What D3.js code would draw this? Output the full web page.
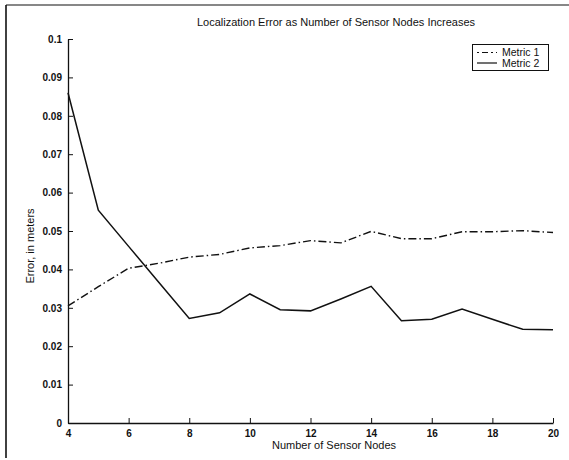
<!DOCTYPE html>
<html><head><meta charset="utf-8">
<script src="https://cdn.jsdelivr.net/npm/d3@7"></script>
<style>
body{margin:0;background:#fff;}
text{font-family:"Liberation Sans",Arial,sans-serif;fill:#111;}
</style></head>
<body><svg id="c" width="569" height="460"></svg>
<script>
const nodes = [4,5,6,7,8,9,10,11,12,13,14,15,16,17,18,19,20];
const metric1 = [0.0305,0.0355,0.0403,0.0416,0.0432,0.0439,0.0456,0.0462,0.0475,0.0469,0.0499,0.0480,0.0480,0.0498,0.0498,0.0501,0.0496];
const metric2 = [0.0860,0.0554,0.0460,0.0366,0.0272,0.0287,0.0336,0.0295,0.0292,0.0323,0.0356,0.0266,0.0270,0.0297,0.0270,0.0244,0.0243];
const xTicks = [4,6,8,10,12,14,16,18,20];
const yTicks = [0,0.01,0.02,0.03,0.04,0.05,0.06,0.07,0.08,0.09,0.1];
const seriesNames = ["Metric 1","Metric 2"];
const title = "Localization Error as Number of Sensor Nodes Increases";
const xLabel = "Number of Sensor Nodes";
const yLabel = "Error, in meters";

const svg = d3.select("#c");
const L=68, R=553, T=39, B=423;
const x = d3.scaleLinear().domain([4,20]).range([L,R]);
const y = d3.scaleLinear().domain([0,0.1]).range([B,T]);

// frame (scan border)
svg.append("line").attr("x1",6).attr("x2",6).attr("y1",5).attr("y2",458).attr("stroke","#111").attr("stroke-width",1.6);
svg.append("line").attr("x1",6).attr("x2",569).attr("y1",5).attr("y2",5).attr("stroke","#111").attr("stroke-width",1.2);

const fs = "10px";
const yAxis = svg.append("g").attr("transform",`translate(${L},0)`)
  .call(d3.axisLeft(y).tickValues(yTicks).tickSizeInner(-5).tickSizeOuter(0).tickPadding(6).tickFormat(d=>d===0?"0":d3.format("")(+d.toFixed(2))));
const xAxis = svg.append("g").attr("transform",`translate(0,${B})`)
  .call(d3.axisBottom(x).tickValues(xTicks).tickSizeInner(-5).tickSizeOuter(0).tickPadding(7).tickFormat(d3.format("d")));
[xAxis,yAxis].forEach(g=>{
  g.select(".domain").attr("stroke","#111").attr("stroke-width",1.3);
  g.selectAll(".tick line").attr("stroke","#111").attr("stroke-width",1);
  g.selectAll("text").style("font-size",fs).style("font-family","'Liberation Sans',Arial,sans-serif").attr("fill","#111").attr("font-weight","bold");
});

const data1 = nodes.map((n,i)=>[n,metric1[i]]);
const data2 = nodes.map((n,i)=>[n,metric2[i]]);
const line = d3.line().x(d=>x(d[0])).y(d=>y(d[1]));
const dash1 = "8,3,1.5,3";
svg.append("path").attr("d",line(data1)).attr("fill","none").attr("stroke","#111").attr("stroke-width",1.4).attr("stroke-dasharray",dash1);
svg.append("path").attr("d",line(data2)).attr("fill","none").attr("stroke","#111").attr("stroke-width",1.5);

// title and labels
svg.append("text").attr("x",336).attr("y",26).attr("text-anchor","middle").style("font-size","11px").text(title);
svg.append("text").attr("x",334).attr("y",449).attr("text-anchor","middle").style("font-size","11px").text(xLabel);
svg.append("text").attr("transform","translate(34,246) rotate(-90)").attr("text-anchor","middle").style("font-size","11px").text(yLabel);

// legend
const lg = svg.append("g");
lg.append("rect").attr("x",472.5).attr("y",44.5).attr("width",76).attr("height",26).attr("fill","#fff").attr("stroke","#111").attr("stroke-width",1);
const dashes = [dash1,null];
seriesNames.forEach((s,i)=>{
  const yy = 52.5 + i*10.5;
  const l = lg.append("line").attr("x1",477).attr("x2",497).attr("y1",yy).attr("y2",yy).attr("stroke","#111").attr("stroke-width",1.2);
  if(dashes[i]) l.attr("stroke-dasharray","2,3,6,3");
  lg.append("text").attr("x",502).attr("y",yy+3.5).style("font-size","10.5px").text(s);
});
</script></body></html>
